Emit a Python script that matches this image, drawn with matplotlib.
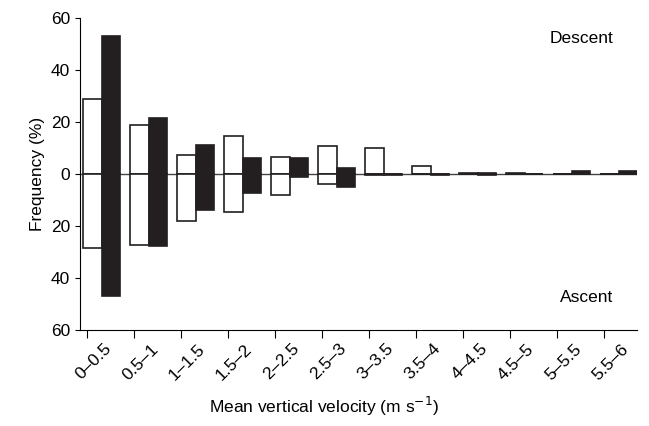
import matplotlib
matplotlib.use("Agg")
import matplotlib.pyplot as plt

plt.rcParams["font.family"] = ["Liberation Sans", "DejaVu Sans"]

categories = ["0–0.5", "0.5–1", "1–1.5", "1.5–2", "2–2.5", "2.5–3",
              "3–3.5", "3.5–4", "4–4.5", "4.5–5", "5–5.5", "5.5–6"]
# open bars (first series) and filled bars (second series)
white_descent = [28.8, 19.0, 7.3, 14.5, 6.4, 10.9, 10.0, 3.0, 0.3, 0.3, 0.0, 0.0]
white_ascent = [-28.3, -27.2, -18.0, -14.5, -8.0, -4.0, -0.4, 0.0, 0.0, 0.0, 0.0, 0.0]
black_descent = [53.0, 21.4, 11.0, 6.2, 6.2, 2.3, 0.0, 0.0, 0.3, 0.0, 1.0, 1.0]
black_ascent = [-46.8, -27.8, -13.8, -7.2, -1.0, -5.0, -0.4, -0.4, -0.3, 0.0, 0.0, 0.0]

fs = 12.5
fig = plt.figure(figsize=(6.49, 4.26), dpi=100)
ax = fig.add_axes([80 / 649, 1 - 330 / 426, 557 / 649, 312 / 426])

w = 0.4
x = list(range(len(categories)))
xw = [i - 0.09 for i in x]
xb = [i + 0.31 for i in x]
ax.axhline(0, color="#444444", lw=1, zorder=1)
for xs, top, bot, fc in [(xw, white_descent, white_ascent, "white"),
                         (xb, black_descent, black_ascent, "#231f20")]:
    ax.bar(xs, top, width=w, align="edge", facecolor=fc, edgecolor="#231f20", lw=1.2, zorder=2)
    ax.bar(xs, bot, width=w, align="edge", facecolor=fc, edgecolor="#231f20", lw=1.2, zorder=2)

ax.set_xlim(-0.15, 11.7)
ax.set_ylim(-60, 60)
ax.set_yticks([-60, -40, -20, 0, 20, 40, 60])
ax.set_yticklabels(["60", "40", "20", "0", "20", "40", "60"], fontsize=fs)
ax.set_xticks(x)
ax.set_xticklabels([])
ax.set_xticks([i + 0.35 for i in x], minor=True)
ax.set_xticklabels(categories, minor=True, rotation=45, ha="right", rotation_mode="anchor", fontsize=fs)
ax.tick_params(axis="x", which="minor", length=0, pad=8)
ax.tick_params(axis="x", which="major", length=6)
for s in ["top", "right"]:
    ax.spines[s].set_visible(False)

ax.text(0.90, 0.92, "Descent", transform=ax.transAxes, ha="center", fontsize=fs)
ax.text(0.91, 0.09, "Ascent", transform=ax.transAxes, ha="center", fontsize=fs)
ax.set_ylabel("Frequency (%)", fontsize=fs)
fig.text(0.5, 0.03, "Mean vertical velocity (m s$^{-1}$)", ha="center", fontsize=fs)

fig.savefig("out.png", dpi=100)
